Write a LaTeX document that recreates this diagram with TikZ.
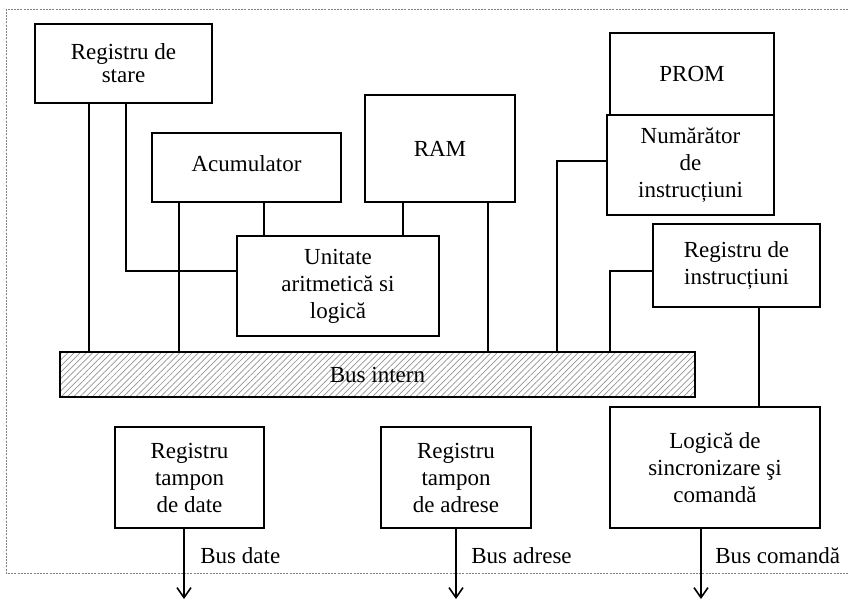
\documentclass[tikz,border=0pt]{standalone}
\usepackage{fontspec}
\setmainfont{Liberation Serif}
\usetikzlibrary{patterns.meta,arrows.meta}

\begin{document}
\begin{tikzpicture}[x=0.5pt,y=-0.5pt]
\tikzstyle{box}=[rectangle, draw=black, line width=1pt, align=center, inner sep=0pt, font=\fontsize{11.5}{13.5}\selectfont]
\tikzstyle{wire}=[line width=0.8pt]
\tikzstyle{outarrow}=[line width=0.8pt, -{Straight Barb[length=5pt, width=7pt]}]
\tikzstyle{buslabel}=[anchor=base west, inner sep=0pt, font=\fontsize{11.5}{13.5}\selectfont]

  \useasboundingbox (0,0) rectangle (848,601);
  \draw[gray, line width=0.4pt, dash pattern=on 1pt off 0.6pt] (848,9) -- (6,9) -- (6,573) -- (848,573);

  \node[box, minimum width=88.5pt, minimum height=39.5pt] (stare) at (123.5,63.5) {Registru de\\[-2pt] stare};
  \node[box, minimum width=94.5pt, minimum height=34.5pt] (acc) at (246.5,167.5) {\raisebox{4pt}{Acumulator}};
  \node[box, minimum width=75pt, minimum height=53.5pt] (ram) at (440,148.5) {RAM};
  \node[box, minimum width=101pt, minimum height=50pt] (alu) at (338,286) {Unitate\\ aritmetică si\\ logică};
  \node[box, minimum width=82pt, minimum height=41pt] (prom) at (692,74) {\raisebox{-6pt}{PROM}};
  \node[box, minimum width=83.5pt, minimum height=50pt] (numar) at (690.5,165) {Numărător\\ de\\ instrucțiuni};
  \node[box, minimum width=83.5pt, minimum height=41.5pt] (instr) at (736.5,265.5) {Registru de\\ instrucțiuni};
  \node[box, minimum width=317.5pt, minimum height=22.5pt, pattern={Lines[angle=45, distance=2.2pt, line width=0.35pt]}, pattern color=gray!85] (bus) at (377.5,374.5) {};
  \node[font=\fontsize{11.5}{13.5}\selectfont] (bustext) at (bus.center) {Bus intern};
  \node[box, minimum width=105pt, minimum height=60.5pt] (logica) at (715,467.5) {Logică de\\ sincronizare şi\\ comandă};
  \node[box, minimum width=74.5pt, minimum height=50.5pt] (tdate) at (189.5,477.5) {Registru\\ tampon\\ de date};
  \node[box, minimum width=75pt, minimum height=50.5pt] (tadr) at (456,477.5) {Registru\\ tampon\\ de adrese};

  % legaturi spre bus
  \coordinate (p1) at (89,0);
  \coordinate (p2) at (126,0);
  \coordinate (p3) at (179,0);
  \coordinate (p4) at (264,0);
  \coordinate (p5) at (403,0);
  \coordinate (p6) at (488,0);
  \coordinate (p7) at (557,0);
  \coordinate (p8) at (610,0);
  \coordinate (p9) at (759,0);
  \draw[wire] (stare.south -| p1) -- (bus.north -| p1);
  \draw[wire] (stare.south -| p2) |- ([yshift=7.5pt]alu.west);
  \draw[wire] (acc.south -| p3) -- (bus.north -| p3);
  \draw[wire] (acc.south -| p4) -- (alu.north -| p4);
  \draw[wire] (ram.south -| p5) -- (alu.north -| p5);
  \draw[wire] (ram.south -| p6) -- (bus.north -| p6);
  \draw[wire] ([yshift=2pt]numar.west) -| (bus.north -| p7);
  \draw[wire] ([yshift=-2.75pt]instr.west) -| (bus.north -| p8);
  \draw[wire] (instr.south -| p9) -- (logica.north -| p9);

  % iesiri
  \coordinate (dateend) at (184,599);
  \coordinate (adrend) at (456,599);
  \coordinate (cmdend) at (701,599);
  \draw[outarrow] (tdate.south -| dateend) -- (dateend);
  \draw[outarrow] (tadr.south -| adrend) -- (adrend);
  \draw[outarrow] (logica.south -| cmdend) -- (cmdend);
  \node[buslabel] (ldate) at (200,563) {Bus date};
  \node[buslabel] (ladr) at (471,563) {Bus adrese};
  \node[buslabel] (lcmd) at (715,563) {Bus comandă};
\end{tikzpicture}
\end{document}
